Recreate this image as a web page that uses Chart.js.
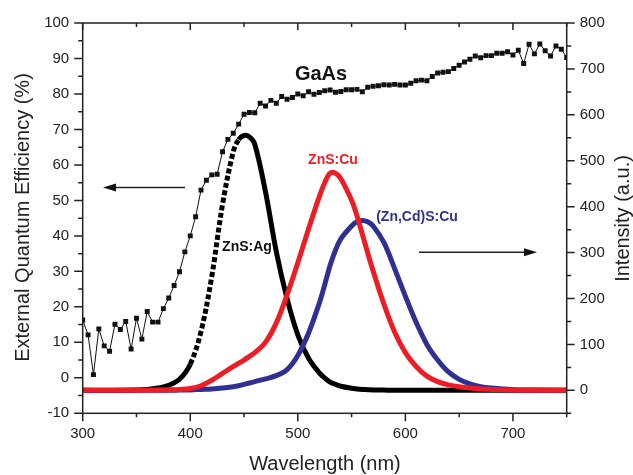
<!DOCTYPE html>
<html>
<head>
<meta charset="utf-8">
<script src="https://cdn.jsdelivr.net/npm/chart.js@4.4.0/dist/chart.umd.min.js"></script>
<style>
  html, body { margin: 0; padding: 0; background: #fff; }
</style>
</head>
<body>
<canvas id="graficoEQE" width="633" height="475"></canvas>
<script>
// GaAs external quantum efficiency (%), left axis
var gaasWl = [300, 305, 310, 315, 320, 325, 330, 335, 340, 345,
  350, 355, 360, 365, 370, 375, 380, 385, 390, 395,
  400, 405, 410, 415, 420, 425, 430, 435, 440, 445,
  450, 455, 460, 465, 470, 475, 480, 485, 490, 495,
  500, 505, 510, 515, 520, 525, 530, 535, 540, 545,
  550, 555, 560, 565, 570, 575, 580, 585, 590, 595,
  600, 605, 610, 615, 620, 625, 630, 635, 640, 645,
  650, 655, 660, 665, 670, 675, 680, 685, 690, 695,
  700, 705, 710, 715, 720, 725, 730, 735, 740, 745, 750];
var gaasEqe = [16.3, 12.1, 0.9, 13.8, 9.0, 7.5, 15.1, 13.6, 15.9, 8.1,
  16.8, 10.9, 18.7, 15.7, 15.7, 19.5, 22.5, 26.0, 29.9, 35.5,
  40.0, 45.4, 52.9, 55.7, 57.2, 57.4, 63.7, 67.2, 68.9, 71.5,
  74.3, 74.8, 74.7, 77.4, 76.6, 78.2, 77.4, 79.3, 78.5, 79.0,
  80.0, 79.5, 80.6, 79.9, 80.4, 80.9, 81.1, 80.5, 80.7, 81.2,
  81.2, 81.3, 80.6, 81.9, 82.2, 82.3, 82.6, 82.5, 82.7, 82.5,
  82.5, 83.0, 83.7, 83.9, 83.7, 84.9, 85.9, 86.1, 86.3, 87.2,
  88.1, 89.0, 89.8, 90.7, 90.2, 90.8, 90.8, 91.5, 91.5, 91.9,
  91.0, 92.3, 88.6, 94.0, 91.3, 94.1, 92.2, 90.7, 93.5, 92.6, 90.3];

// emission spectra (a.u.), right axis
var emWl = [300, 340, 360, 370, 380, 390, 400, 410, 420, 430,
  440, 445, 450, 455, 460, 470, 480, 490, 500, 510,
  520, 525, 530, 535, 540, 550, 555, 560, 565, 570,
  580, 590, 600, 610, 620, 630, 640, 650, 660, 670,
  680, 700, 720, 750];
var znsAg = [0, 0, 2, 5, 11, 24, 57, 128, 248, 405,
  520, 546, 555, 552, 536, 432, 302, 200, 121, 70,
  38, 27, 18, 13, 9, 4.5, 3, 2, 1.5, 1,
  0.5, 0, 0, 0, 0, 0, 0, 0, 0, 0,
  0, 0, 0, 0];
var znsCu = [0, 0, 0, 0.5, 1, 2, 4, 10, 22, 37,
  52, 59, 66, 74, 82, 105, 147, 208, 278, 352,
  422, 452, 473, 473, 461, 414, 380, 340, 299, 260,
  188, 127, 82, 52, 31, 19, 12, 8, 5, 3,
  2, 0.5, 0, 0];
var znCdS = [0, 0, 0, 0, 0, 0.5, 1, 2, 3, 5,
  8, 10, 13, 16, 19, 25, 32, 45, 76, 125,
  190, 230, 272, 305, 330, 358, 367, 370, 367, 358,
  322, 265, 205, 148, 100, 66, 40, 24, 14, 8,
  5, 1.5, 0.5, 0];

var xTicks = [300, 400, 500, 600, 700];
var xMinor = [350, 450, 550, 650, 750];
var yTicks = [-10, 0, 10, 20, 30, 40, 50, 60, 70, 80, 90, 100];
var yMinor = [-5, 5, 15, 25, 35, 45, 55, 65, 75, 85, 95];
var y2Ticks = [0, 100, 200, 300, 400, 500, 600, 700, 800];
var y2Minor = [-50, 50, 150, 250, 350, 450, 550, 650, 750];

function pts(xs, ys) {
  return xs.map(function (x, i) { return {x: x, y: ys[i]}; });
}
function fixTicks(list) {
  return function (scale) { scale.ticks = list.map(function (v) { return {value: v}; }); };
}

Chart.defaults.font.family = '"Liberation Sans", Arial, sans-serif';
Chart.defaults.color = '#222';

var marcos = {
  id: 'marcos',
  afterDraw: function (chart) {
    var c = chart.ctx, a = chart.chartArea;
    var sx = chart.scales.x, sy = chart.scales.y, sy2 = chart.scales.y2;
    c.save();
    c.strokeStyle = '#222';
    c.lineWidth = 1.5;
    c.strokeRect(a.left, a.top, a.right - a.left, a.bottom - a.top);
    c.beginPath();
    function tick(x1, y1, x2, y2) { c.moveTo(x1, y1); c.lineTo(x2, y2); }
    xTicks.forEach(function (v) {
      var p = sx.getPixelForValue(v);
      tick(p, a.bottom, p, a.bottom + 8);
      tick(p, a.top, p, a.top + 7);
    });
    xMinor.forEach(function (v) {
      var p = sx.getPixelForValue(v);
      tick(p, a.bottom, p, a.bottom + 4);
      tick(p, a.top, p, a.top + 4);
    });
    yTicks.forEach(function (v) {
      var p = sy.getPixelForValue(v);
      tick(a.left, p, a.left - 8.5, p);
    });
    yMinor.forEach(function (v) {
      var p = sy.getPixelForValue(v);
      tick(a.left, p, a.left - 4.5, p);
    });
    y2Ticks.forEach(function (v) {
      var p = sy2.getPixelForValue(v);
      tick(a.right, p, a.right + 8, p);
    });
    y2Minor.forEach(function (v) {
      var p = sy2.getPixelForValue(v);
      tick(a.right, p, a.right + 4.5, p);
    });
    c.stroke();

    // flechas
    function arrow(x1, x2, y) {
      var dir = x2 > x1 ? 1 : -1;
      c.beginPath();
      c.lineWidth = 1.4;
      c.moveTo(x1, y);
      c.lineTo(x2 - dir * 10, y);
      c.stroke();
      c.beginPath();
      c.fillStyle = '#111';
      c.moveTo(x2, y);
      c.lineTo(x2 - dir * 13, y - 4);
      c.lineTo(x2 - dir * 13, y + 4);
      c.closePath();
      c.fill();
    }
    arrow(185, 103, 187.5);
    arrow(419, 537, 252.3);

    // etiquetas
    c.textAlign = 'center';
    c.textBaseline = 'middle';
    c.fillStyle = '#111';
    c.font = 'bold 20px "Liberation Sans", Arial, sans-serif';
    c.fillText('GaAs', 321, 74);
    c.font = 'bold 14px "Liberation Sans", Arial, sans-serif';
    c.fillText('ZnS:Ag', 247, 247);
    c.fillStyle = '#ee1c24';
    c.fillText('ZnS:Cu', 333, 160.5);
    c.fillStyle = '#2e3192';
    c.fillText('(Zn,Cd)S:Cu', 417, 217);

    // titulos de ejes
    c.fillStyle = '#222';
    c.font = '20px "Liberation Sans", Arial, sans-serif';
    c.fillText('Wavelength (nm)', 325, 464);
    c.save();
    c.translate(23.5, 217.5);
    c.rotate(-Math.PI / 2);
    c.fillText('External Quantum Efficiency (%)', 0, 0);
    c.restore();
    c.save();
    c.translate(623, 218.5);
    c.rotate(-Math.PI / 2);
    c.fillText('Intensity (a.u.)', 0, 0);
    c.restore();
    c.restore();
  }
};

function espectro(label, xs, ys, color) {
  return {
    label: label,
    data: pts(xs, ys),
    yAxisID: 'y2',
    showLine: true,
    borderColor: color,
    borderWidth: 5,
    pointRadius: 0,
    tension: 0.35
  };
}

var dsAg = espectro('ZnS:Ag', emWl, znsAg, '#000');
// the rising flank of ZnS:Ag shows as separate square markers
dsAg.segment = {
  borderDash: function (ctx) {
    return (ctx.p0.parsed.x >= 395 && ctx.p1.parsed.x <= 445) ? [5, 2.5] : undefined;
  }
};

var grafico = new Chart(document.getElementById('graficoEQE').getContext('2d'), {
  type: 'scatter',
  data: {
    datasets: [{
      label: 'GaAs',
      data: pts(gaasWl, gaasEqe),
      yAxisID: 'y',
      showLine: true,
      borderColor: '#111',
      borderWidth: 1,
      backgroundColor: '#111',
      pointStyle: 'rect',
      pointRadius: 3.5,
      pointBorderWidth: 0
    },
    espectro('ZnS:Cu', emWl, znsCu, '#ee1c24'),
    espectro('(Zn,Cd)S:Cu', emWl, znCdS, '#2e3192'),
    dsAg]
  },
  options: {
    responsive: false,
    animation: false,
    layout: { padding: { top: 23, left: 0, right: 0, bottom: 0 } },
    plugins: { legend: { display: false }, tooltip: { enabled: false } },
    scales: {
      x: {
        type: 'linear', min: 300, max: 750,
        afterBuildTicks: fixTicks(xTicks),
        afterFit: function (s) { s.height = 61.7; },
        grid: { display: false, drawTicks: false },
        border: { display: false },
        ticks: { padding: 12, font: { size: 15 }, maxRotation: 0 }
      },
      y: {
        position: 'left', min: -10, max: 100,
        afterBuildTicks: fixTicks(yTicks),
        afterFit: function (s) { s.width = 82.7; },
        grid: { display: false, drawTicks: false },
        border: { display: false },
        ticks: { padding: 13.5, font: { size: 15 } }
      },
      y2: {
        position: 'right', min: -50, max: 800,
        afterBuildTicks: fixTicks(y2Ticks),
        afterFit: function (s) { s.width = 66.3; },
        grid: { display: false, drawTicks: false },
        border: { display: false },
        ticks: { padding: 13, font: { size: 15 } }
      }
    }
  },
  plugins: [marcos]
});
</script>
</body>
</html>
